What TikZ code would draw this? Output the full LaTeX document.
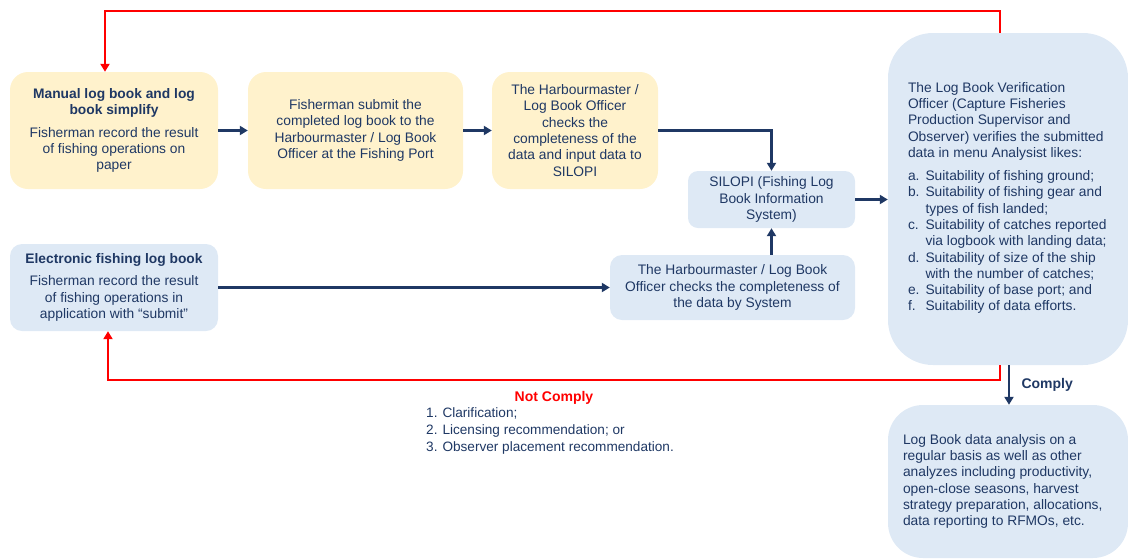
\documentclass[tikz,border=0pt]{standalone}
\usepackage{fontspec}
\setmainfont{Liberation Sans}
\usetikzlibrary{arrows.meta,positioning}
\definecolor{navy}{RGB}{31,56,100}
\definecolor{paleyellow}{RGB}{255,242,204}
\definecolor{paleblue}{RGB}{222,233,245}
\tikzset{
  box/.style={rounded corners=18pt,align=center,text=navy,inner sep=0pt,
    font=\fontsize{13.8}{16.3}\selectfont},
  yellowbox/.style={box,fill=paleyellow},
  bluebox/.style={box,fill=paleblue},
  flow/.style={navy,line width=2.4pt,-{Triangle[length=8pt,width=9pt]}},
  back/.style={red,line width=2pt,-{Triangle[length=8pt,width=9pt]}},
}
\begin{document}
\begin{tikzpicture}[x=1pt,y=-1pt]
  \useasboundingbox (0,0) rectangle (1128,558);
  % top row (paper log book)
  \node[yellowbox,minimum width=208pt,minimum height=117pt] (manual) at (114,130.5)
    {\textbf{Manual log book and log}\\\textbf{book simplify}\\[6pt]
     Fisherman record the result\\of fishing operations on\\paper};
  \node[yellowbox,minimum width=215pt,minimum height=117pt] (submit) at (355.5,130.5)
    {Fisherman submit the\\completed log book to the\\Harbourmaster / Log Book\\Officer at the Fishing Port};
  \node[yellowbox,minimum width=166pt,minimum height=117pt] (check) at (575,130.5)
    {The Harbourmaster /\\Log Book Officer\\checks the\\completeness of the\\data and input data to\\SILOPI};
  \node[bluebox,rounded corners=10pt,minimum width=167pt,minimum height=57pt] (silopi) at (771.5,199.5)
    {SILOPI (Fishing Log\\Book Information\\System)};
  % bottom row (electronic log book)
  \node[bluebox,rounded corners=12pt,minimum width=208pt,minimum height=87pt] (elec) at (114,287.5)
    {\textbf{Electronic fishing log book}\\[6pt]
     Fisherman record the result\\of fishing operations in\\application with “submit”};
  \node[bluebox,rounded corners=12pt,minimum width=245pt,minimum height=65pt] (sysck) at (732.5,287.5)
    {The Harbourmaster / Log Book\\Officer checks the completeness of\\the data by System};
  % right column
  \node[bluebox,rounded corners=45pt,minimum width=240pt,minimum height=332pt,align=left] (verify) at (1008,199)
    {\begin{minipage}{200pt}
     The Log Book Verification\\Officer (Capture Fisheries\\Production Supervisor and\\
     Observer) verifies the submitted\\data in menu Analysist likes:\par\vspace{8pt}
     \begin{tabular}{@{}l@{\hspace{6pt}}l@{}}
     a. & Suitability of fishing ground;\\
     b. & Suitability of fishing gear and\\
        & types of fish landed;\\
     c. & Suitability of catches reported\\
        & via logbook with landing data;\\
     d. & Suitability of size of the ship\\
        & with the number of catches;\\
     e. & Suitability of base port; and\\
     f. & Suitability of data efforts.
     \end{tabular}
     \end{minipage}};
  \node[bluebox,rounded corners=35pt,minimum width=240pt,minimum height=153pt,align=left] (analysis) at (1008,481.5)
    {\begin{minipage}{210pt}
     Log Book data analysis on a\\regular basis as well as other\\analyzes including productivity,\\
     open-close seasons, harvest\\strategy preparation, allocations,\\data reporting to RFMOs, etc.
     \end{minipage}};
  % flow
  \draw[flow] (manual) -- (submit);
  \draw[flow] (submit) -- (check);
  \draw[flow] (check.east) -| (silopi.north);
  \draw[flow] (elec) -- (sysck);
  \draw[flow] (sysck.north -| silopi) -- (silopi.south);
  \draw[flow] (silopi.east) -- (silopi.east -| verify.west);
  \draw[flow] ([xshift=1pt]verify.south) -- ([xshift=1pt]analysis.north)
    node[midway,right=8pt,font=\fontsize{14}{16}\selectfont\bfseries,text=navy] (comply) {Comply};
  % feedback when data do not comply
  \draw[back] ([xshift=-8pt]verify.north) -- ++(0,-22) -| ([xshift=-9pt]manual.north);
  \draw[back] ([xshift=-8pt]verify.south) -- ++(0,15) -| ([xshift=-6pt]elec.south);
  \node[text=red,font=\fontsize{14}{16}\selectfont\bfseries] (notcomply) at (554,398) {Not Comply};
  \node[anchor=north west,text=navy,font=\fontsize{13.6}{17}\selectfont,inner sep=0pt] (actions) at (426,405)
    {\begin{tabular}{@{}l@{\hspace{5pt}}l@{}}
     1. & Clarification;\\
     2. & Licensing recommendation; or\\
     3. & Observer placement recommendation.
     \end{tabular}};
\end{tikzpicture}
\end{document}
